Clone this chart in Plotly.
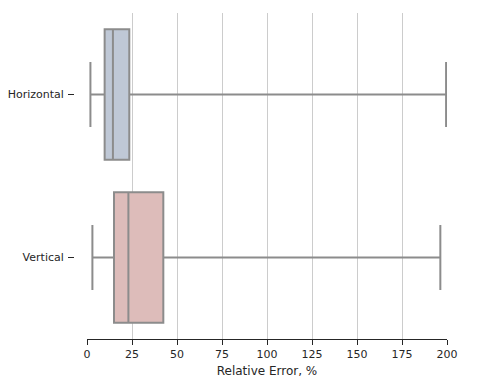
import plotly.graph_objects as go

categories = ["Horizontal", "Vertical"]
lower_fence = [1.9, 3.0]
q1_vals = [9.8, 15.0]
median_vals = [14.4, 23.0]
q3_vals = [23.5, 42.4]
upper_fence = [199.5, 196.3]
fill_colors = ["#bfc8d6", "#ddbcba"]
x_ticks = [0, 25, 50, 75, 100, 125, 150, 175, 200]

W, H = 477, 383
ml, mr, mt, mb = 10, 30, 13, 44
pw = W - ml - mr

fig = go.Figure()
for i, cat in enumerate(categories):
    fig.add_trace(go.Box(
        y=[cat],
        q1=[q1_vals[i]], median=[median_vals[i]], q3=[q3_vals[i]],
        lowerfence=[lower_fence[i]], upperfence=[upper_fence[i]],
        orientation="h",
        fillcolor=fill_colors[i],
        line=dict(color="#8c8c8c", width=2),
        whiskerwidth=0.5,
        width=0.8,
        boxpoints=False,
        showlegend=False,
        hoverinfo="skip",
    ))

fig.update_layout(
    width=W, height=H,
    margin=dict(l=ml, r=mr, t=mt, b=mb),
    plot_bgcolor="white", paper_bgcolor="white",
    font=dict(family="DejaVu Sans", size=11, color="#262626"),
    xaxis=dict(
        domain=[(87 - ml) / pw, 1],
        range=[0, 200],
        tickvals=x_ticks,
        ticks="outside", ticklen=5, tickwidth=1.25, tickcolor="#262626",
        showline=True, linecolor="#262626", linewidth=1.25,
        showgrid=True, gridcolor="#cccccc", gridwidth=1,
        zeroline=False,
        automargin=False,
        title=dict(text="Relative Error, %", font=dict(size=12), standoff=6),
        tickfont=dict(size=11),
    ),
    yaxis=dict(
        type="category",
        categoryorder="array", categoryarray=categories,
        range=[1.5, -0.5],
        anchor="free", position=(74 - ml) / pw,
        ticks="outside", ticklen=6, tickwidth=1.25, tickcolor="#262626",
        showline=False, showgrid=False, zeroline=False,
        automargin=False,
        tickfont=dict(size=11),
        ticklabelstandoff=2,
    ),
)

fig.write_html("out.html")
